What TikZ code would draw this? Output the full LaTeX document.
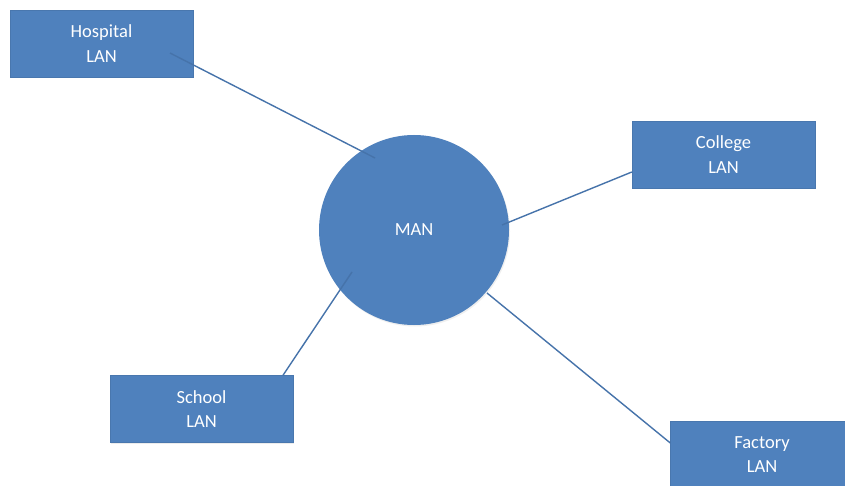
\documentclass[tikz,border=0pt]{standalone}
\usepackage{fontspec}
\setmainfont{Carlito}
\usetikzlibrary{calc,shadows}
\definecolor{boxblue}{HTML}{4F81BD}
\definecolor{lineblue}{HTML}{4673AA}
\begin{document}
\begin{tikzpicture}[x=1pt,y=-1pt,
  lan/.style={rectangle, fill=boxblue, draw=boxblue!92!black, line width=0.4pt,
    minimum width=183pt, minimum height=67pt, inner sep=0pt,
    text=white, align=center, font=\fontsize{18.5}{24.5}\selectfont,
    drop shadow={opacity=0.15, shadow xshift=1.2pt, shadow yshift=-1.5pt}},
  hub/.style={circle, fill=boxblue, minimum size=190pt, inner sep=0pt,
    text=white, font=\fontsize{18.5}{24.5}\selectfont,
    drop shadow={opacity=0.12, shadow xshift=1pt, shadow yshift=-1.5pt}},
  link/.style={draw=lineblue, line width=1.4pt}]
\useasboundingbox (0,0) rectangle (845,486);
\clip (0,0) rectangle (845,486);
\fill[white] (0,0) rectangle (845,486);
\node[hub] (man) at (414,230) {MAN};
\node[lan] (hosp) at (101.5,43.5) {Hospital\\LAN};
\node[lan] (coll) at (723.5,154.5) {College\\LAN};
\node[lan] (school) at (201.5,409) {School\\LAN};
\node[lan] (fact) at (762,454.5) {Factory\\LAN};
\draw[link] ($(hosp.center)+(68.5,9.5)$) -- ($(man.center)+(-39,-72)$);
\draw[link] ($(coll.west)+(0,17.5)$) -- ($(man.center)+(88,-5)$);
\draw[link] ($(school.north)+(81.5,0)$) -- ($(man.center)+(-62,42)$);
\draw[link] ($(fact.west)+(0,-11.5)$) -- ($(man.center)+(73,63)$);
\end{tikzpicture}
\end{document}
